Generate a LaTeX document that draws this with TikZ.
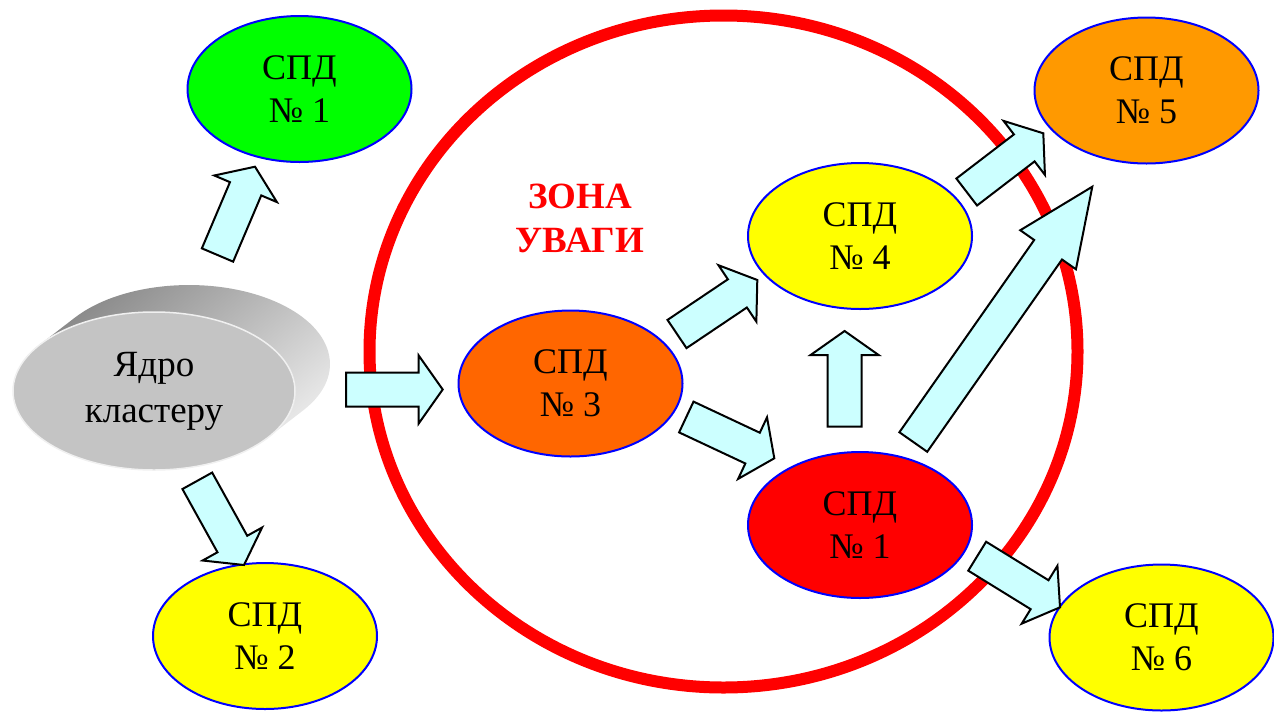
\documentclass[tikz,border=0pt]{standalone}
\usepackage{fontspec}
\setmainfont{Liberation Serif}
\usetikzlibrary{calc,shapes.geometric}
\definecolor{arrfill}{HTML}{CCFFFF}
\definecolor{cgreen}{HTML}{00FF00}
\definecolor{cyellow}{HTML}{FFFF00}
\definecolor{corange}{HTML}{FF6600}
\definecolor{camber}{HTML}{FF9900}
\definecolor{cred}{HTML}{FF0000}
\tikzset{
  spd/.style={ellipse, draw=blue, line width=2pt, minimum width=224pt, minimum height=146pt,
    inner sep=0pt, align=center, font=\fontsize{36}{43}\selectfont},
  blockarrow/.style={draw=black, line width=2pt, fill=arrfill, line join=miter},
  zonering/.style={ellipse, draw=cred, line width=12pt, minimum width=708pt, minimum height=672pt, inner sep=0pt},
  zonelabel/.style={text=cred, align=center, font=\fontsize{37}{44}\selectfont\bfseries},
  coreface/.style={ellipse, fill=black!23, draw=black!6, line width=1.5pt, minimum width=282pt,
    minimum height=158pt, inner sep=0pt, align=center, font=\fontsize{37}{46}\selectfont},
}
\newcommand\blockarr[3]{%
  \coordinate (ba-c) at ($(#2)!#3!(#1)$);
  \draw[blockarrow] ($(#1)!17pt!90:(#2)$) -- ($(ba-c)!17pt!90:(#2)$) -- ($(ba-c)!34pt!90:(#2)$)
    -- (#2) -- ($(ba-c)!34pt!-90:(#2)$) -- ($(ba-c)!17pt!-90:(#2)$) -- ($(#1)!17pt!-90:(#2)$) -- cycle;
}
\begin{document}
\begin{tikzpicture}[x=1pt,y=1pt]
\useasboundingbox (0,0) rectangle (1274,-713);
% zone ring
\node[zonering] (zone) at (723.5,-351.5) {};
\node[zonelabel] (zl) at (580,-218) {ЗОНА\\УВАГИ};
% cluster core (3D disc)
\coordinate (cf) at (154,-391);
\shade[shading=axis, top color=black!50, bottom color=black!5, shading angle=40]
  ($(cf)+(-114.1,46.4)+(35,27)$) arc[start angle=144, end angle=-36, x radius=141pt, y radius=79pt]
  -- ($(cf)+(114.1,-46.4)$) arc[start angle=-36, end angle=-216, x radius=141pt, y radius=79pt] -- cycle;
\node[coreface] (core) at (cf) {Ядро\\кластеру};
% ellipses
\node[spd, fill=cgreen]  (s1)  at (299.5,-89)  {СПД\\№ 1};
\node[spd, fill=cyellow] (s2)  at (265,-636)   {СПД\\№ 2};
\node[spd, fill=corange] (s3)  at (570.5,-383.5) {СПД\\№ 3};
\node[spd, fill=cyellow] (s4)  at (860,-236)   {СПД\\№ 4};
\node[spd, fill=cred]    (s1r) at (860,-525)   {СПД\\№ 1};
\node[spd, fill=camber]  (s5)  at (1146.5,-90.5) {СПД\\№ 5};
\node[spd, fill=cyellow] (s6)  at (1161.5,-637.5) {СПД\\№ 6};
% arrow end points
\coordinate (a1s) at (217.5,-255);   \coordinate (a1e) at (255,-166.7);
\coordinate (a2s) at (197.3,-480.8); \coordinate (a2e) at (244,-565);
\coordinate (a3s) at (346,-389.5);   \coordinate (a3e) at (442.7,-389.5);
\coordinate (a4s) at (677,-334);     \coordinate (a4e) at (757.3,-280);
\coordinate (a5s) at (686.3,-417);   \coordinate (a5e) at (774.3,-458.3);
\coordinate (a6s) at (844.6,-426.7); \coordinate (a6e) at (844.6,-331);
\coordinate (a7s) at (966.7,-192);   \coordinate (a7e) at (1043.3,-133.3);
\coordinate (a8s) at (913.3,-442);   \coordinate (a8e) at (1092.3,-186.7);
\coordinate (a9s) at (977.2,-556.2); \coordinate (a9e) at (1060,-607.3);
\blockarr{a1s}{a1e}{24pt}
\blockarr{a2s}{a2e}{24pt}
\blockarr{a3s}{a3e}{24pt}
\blockarr{a4s}{a4e}{24pt}
\blockarr{a5s}{a5e}{24pt}
\blockarr{a6s}{a6e}{24pt}
\blockarr{a7s}{a7e}{24pt}
\blockarr{a8s}{a8e}{77pt}
\blockarr{a9s}{a9e}{24pt}
\end{tikzpicture}
\end{document}
